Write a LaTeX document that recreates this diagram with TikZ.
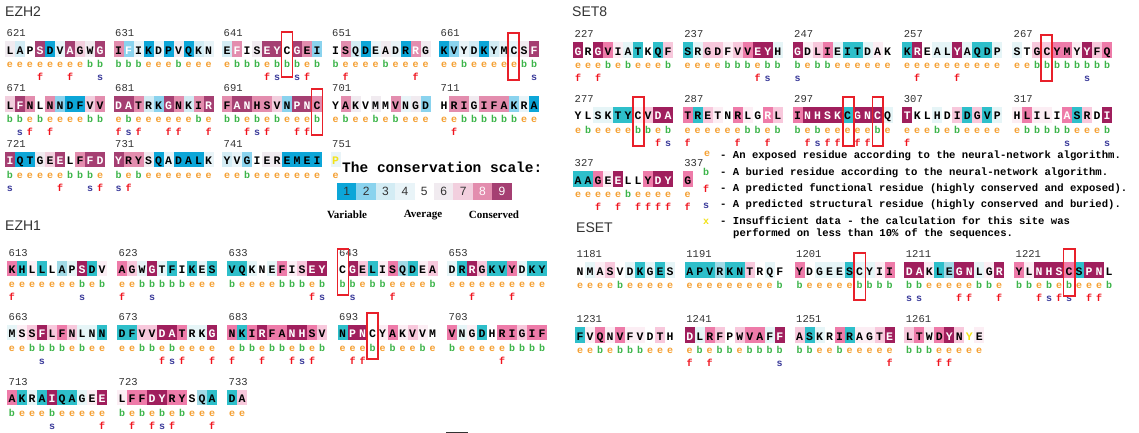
\documentclass[tikz,border=0pt]{standalone}
\usepackage{fontspec}
\setmainfont{Liberation Serif}
\newfontfamily\lmono{Liberation Mono}
\newfontfamily\lsans{Liberation Sans}
\ExplSyntaxOn
\cs_new:Npn \myitem #1#2 { \tl_item:nn {#1} {#2} }
\cs_new:Npn \mycount #1 { \tl_count:n {#1} }
\ExplSyntaxOff
% palette A (EZH2 / scale)
\definecolor{A1}{HTML}{0CA6D8}\definecolor{A2}{HTML}{8AD3EE}\definecolor{A3}{HTML}{D3ECF4}
\definecolor{A4}{HTML}{E9F4F8}\definecolor{A5}{HTML}{FFFFFF}\definecolor{A6}{HTML}{F1EBF0}
\definecolor{A7}{HTML}{F2CFDE}\definecolor{A8}{HTML}{E38DAE}\definecolor{A9}{HTML}{A53F72}
\colorlet{Ap}{A8}\colorlet{Aq}{A2}\colorlet{Ay}{A4}\colorlet{Az}{A5}
% palette B (others)
\definecolor{B1}{HTML}{2EBFCA}\definecolor{B2}{HTML}{A0DAE6}\definecolor{B3}{HTML}{D5EFF3}
\definecolor{B4}{HTML}{E6F5F7}\definecolor{B5}{HTML}{FFFFFF}\definecolor{B6}{HTML}{FCEEF4}
\definecolor{B7}{HTML}{F8C8DC}\definecolor{B8}{HTML}{EE7BA9}\definecolor{B9}{HTML}{A01F5D}
\colorlet{Bp}{B8}\colorlet{Bq}{B2}\colorlet{By}{B4}\colorlet{Bz}{B5}
% text colours
\definecolor{ins}{HTML}{F2E21A}
\colorlet{T1}{black}\colorlet{T2}{black}\colorlet{T3}{black}\colorlet{T4}{black}
\colorlet{T5}{black}\colorlet{T6}{black}\colorlet{T7}{black}\colorlet{T8}{black}
\colorlet{T9}{white}\colorlet{Tp}{white}\colorlet{Tq}{white}\colorlet{Ty}{ins}\colorlet{Tz}{ins}
\definecolor{Ce}{HTML}{F5A032}\definecolor{Cb}{HTML}{3DB54A}
\definecolor{Cf}{HTML}{F0141E}\definecolor{Cs}{HTML}{3A3A9A}\definecolor{Cx}{HTML}{F2E21A}
\definecolor{numgray}{HTML}{333333}\definecolor{ttlgray}{HTML}{333333}
\definecolor{boxred}{HTML}{E8202A}
\colorlet{S1}{numgray}\colorlet{S2}{numgray}\colorlet{S3}{numgray}\colorlet{S4}{numgray}
\colorlet{S5}{numgray}\colorlet{S6}{numgray}\colorlet{S7}{numgray}\colorlet{S8}{white}\colorlet{S9}{white}
\tikzset{
  numsty/.style={anchor=base west, inner sep=0pt, font=\lmono\fontsize{10.5}{10.5}\selectfont, text=numgray},
  ressty/.style={anchor=base, inner sep=0pt, font=\lmono\bfseries\fontsize{11.5}{11.5}\selectfont},
  ebsty/.style={anchor=base, inner sep=0pt, font=\lmono\bfseries\fontsize{10}{10}\selectfont},
  fssty/.style={anchor=base, inner sep=0pt, font=\lmono\bfseries\fontsize{10}{10}\selectfont},
  ttl/.style={anchor=west, inner sep=0pt, font=\lsans\fontsize{14}{14}\selectfont, text=ttlgray},
  redbox/.style={draw=boxred, line width=1.8pt},
  legt/.style={anchor=west, inner sep=0pt, font=\lmono\bfseries\fontsize{10.6}{10.6}\selectfont, text=black},
  scalenum/.style={inner sep=0pt, font=\lsans\fontsize{12}{12}\selectfont},
  scalelbl/.style={inner sep=0pt, font=\bfseries\fontsize{11}{11}\selectfont, text=black},
}
% #1 palette, #2 x, #3 y, #4 number, #5 residues, #6 grades, #7 e/b, #8 f/s
\newcommand\blk[8]{%
  \node[numsty] at (#2+1.5,#3+3.5) {#4};
  \edef\nres{\mycount{#5}}%
  \foreach \i in {1,...,\nres}{%
    \edef\res{\myitem{#5}{\i}}%
    \edef\gr{\myitem{#6}{\i}}%
    \edef\ebc{\myitem{#7}{\i}}%
    \edef\fsc{\myitem{#8}{\i}}%
    \pgfmathsetmacro\xx{#2+10*(\i-1)}%
    \fill[#1\gr] (\xx,#3+8) rectangle ++(10,15.5);
    \node[ressty, text=T\gr] at (\xx+5,#3+20.8) {\res};
    \node[ebsty, text=C\ebc] at (\xx+5,#3+34.5) {\ebc};
    \if\fsc-\relax\else\node[fssty, text=C\fsc] at (\xx+5,#3+47.5) {\fsc};\fi
  }%
}
\begin{document}
\begin{tikzpicture}[x=1pt,y=-1pt]
\useasboundingbox (0,0) rectangle (1139,433);
\fill[white] (0,0) rectangle (1139,433);
% titles
\node[ttl] (tEZH2) at (5,12) {EZH2};
\node[ttl] (tSET8) at (572,12) {SET8};
\node[ttl] (tEZH1) at (5,226) {EZH1};
\node[ttl] (tESET) at (576,228) {ESET};
% ---------------- EZH2 ----------------
\blk{A}{5}{33.3}{621}{LAPSDVAGWG}{6359149769}{eeeeeeeebb}{---f--f--s}
\blk{A}{113.5}{33.3}{631}{IFIKDPVQKN}{8q41416134}{bbbeeebeee}{----------}
\blk{A}{222}{33.3}{641}{EFISEYCGEI}{3p56995982}{ebbbebbbeb}{----fs-sf-}
\blk{A}{330.5}{33.3}{651}{ISQDEADRRG}{58314641p6}{beeeebeeee}{-f------f-}
\blk{A}{439}{33.3}{661}{KVYDKYMCSF}{1243134469}{eebeeeeebb}{---------s}
\blk{A}{5}{88.3}{671}{LFNLNNDFVV}{7985821178}{bbebeeeebb}{-sf-f-----}
\blk{A}{113.5}{88.3}{681}{DATRKGNKIR}{9983298389}{ebeeeeeebe}{fsf--ff--f}
\blk{A}{222}{88.3}{691}{FANHSVNPNC}{8998872998}{bbebebeeeb}{--fsf--ff-}
\blk{A}{330.5}{88.3}{701}{YAKVMMVNGD}{5865658462}{ebeebebeee}{----------}
\blk{A}{439}{88.3}{711}{HRIGIFAKRA}{5886888241}{eebbbbbbee}{-f--------}
\blk{A}{5}{143.5}{721}{IQTGEELFFD}{9116795899}{beeeeebbbe}{s----f--sf}
\blk{A}{113.5}{143.5}{731}{YRYSQADALK}{9886141114}{bebeeeeeee}{sf--------}
\blk{A}{222}{143.5}{741}{YVGIEREMEI}{3425661111}{eebeeeeeee}{----------}
\blk{A}{330.5}{143.5}{751}{P}{y}{e}{-}
% ---------------- SET8 ----------------
\blk{B}{573}{34.3}{227}{GRGVIATKQF}{9598641517}{eeebebeeeb}{f-f-------}
\blk{B}{682.7}{34.3}{237}{SRGDFVVEYH}{1477678994}{eeeebbbebb}{-------fs-}
\blk{B}{792.5}{34.3}{247}{GDLIEITDAK}{9678411465}{bebbeeeeee}{s---------}
\blk{B}{902.2}{34.3}{257}{KREALYAQDP}{1954494114}{eeeeeeeeee}{-f---f----}
\blk{B}{1012}{34.3}{267}{STGCYMYYFQ}{4577886978}{eebbbbbbbb}{-------s--}
\blk{B}{573}{99.2}{277}{YLSKTYCVDA}{5544116799}{ebeeeebbeb}{--------fs}
\blk{B}{682.7}{99.2}{287}{TRETNRLGRL}{81765865p7}{eeeeeebbeb}{f----f--f-}
\blk{B}{792.5}{99.2}{297}{INHSKCGNCQ}{8999919994}{bebeeeeebe}{-fsff-ff--}
\blk{B}{902.2}{99.2}{307}{TKLHDIDGVP}{9554571714}{eeebebeeee}{f---------}
\blk{B}{1012}{99.2}{317}{HLILIASRDI}{68665p1759}{ebbbbbeeeb}{-----s---s}
\blk{B}{573}{163.3}{327}{AAGEELLYDY}{1186955899}{eeeeebeeee}{--f-f-ffff}
\blk{B}{682.7}{163.3}{337}{G}{8}{e}{f}
% ---------------- EZH1 ----------------
\blk{B}{7}{252.7}{613}{KHLLLAPSDV}{8161524916}{eeeeeeebeb}{f------s--}
\blk{B}{117}{252.7}{623}{AGWGTFIKES}{8749415141}{eebbbbbeee}{f--s------}
\blk{B}{227}{252.7}{633}{VQKNEFISEY}{1145486799}{beeeebbbeb}{--------fs}
\blk{B}{337.5}{252.7}{643}{CGELISQDEA}{5971682167}{bbebbeeeeb}{-s---f----}
\blk{B}{447}{252.7}{653}{DRRGKVYDKY}{4197118411}{eeeeeeeeee}{--f---f---}
\blk{B}{7}{316.7}{663}{MSSFLFNLNN}{4679787441}{eebbbbebee}{---s------}
\blk{B}{117}{316.7}{673}{DFVVDATRKG}{1177998449}{eebbebeeee}{----fsf--f}
\blk{B}{227}{316.7}{683}{NKIRFANHSV}{8189889987}{ebbebbebeb}{f--f--fsf-}
\blk{B}{337.5}{316.7}{693}{NPNCYAKVVM}{1995686765}{eeebebeebe}{-ff-------}
\blk{B}{447}{316.7}{703}{VNGDHRIGIF}{8461588788}{beeeeebbbb}{-----f----}
\blk{B}{7}{381.7}{713}{AKRAIQAGEE}{8141911469}{beeebeeeee}{----s----f}
\blk{B}{117}{381.7}{723}{LFFDYRYSQA}{6889988521}{bebebebeee}{-f-fsf---f}
\blk{B}{227}{381.7}{733}{DA}{17}{ee}{--}
% ---------------- ESET ----------------
\blk{B}{575}{254.3}{1181}{NMASVDKGES}{5467541414}{eeeebeeeee}{----------}
\blk{B}{684.7}{254.3}{1191}{APVRKNTRQF}{1112117545}{eeeeeeeeeb}{----------}
\blk{B}{794.5}{254.3}{1201}{YDGEESCYII}{8544414468}{beeeeebbbb}{----------}
\blk{B}{904.2}{254.3}{1211}{DAKLEGNLGR}{9961299469}{bbeeeeebbe}{ss---ff--f}
\blk{B}{1014}{254.3}{1221}{YLNHSCSPNL}{8699981995}{bbebebeeeb}{--fsfs-ff-}
\blk{B}{575}{319.3}{1231}{FVQNVFVDTH}{1686866575}{eebebbbeee}{----------}
\blk{B}{684.7}{319.3}{1241}{DLRFPWVAFF}{9487578849}{ebebbebbbb}{f-f------s}
\blk{B}{794.5}{319.3}{1251}{ASKRIRAGTE}{7145816679}{bbeebeeeee}{---------f}
\blk{B}{904.2}{319.3}{1261}{LTWDYNYE}{786897z6}{bbbeeeee}{---ff---}
% ---------------- red boxes ----------------
\draw[redbox] (281.5,32) rectangle (292.5,77);
\draw[redbox] (508,33) rectangle (519,80);
\draw[redbox] (311.5,89) rectangle (322.5,135);
\draw[redbox] (1041,35) rectangle (1052,81);
\draw[redbox] (633,97) rectangle (644,146);
\draw[redbox] (843,97) rectangle (854,146);
\draw[redbox] (872.5,97) rectangle (883,146);
\draw[redbox] (337.5,249) rectangle (348.5,295);
\draw[redbox] (367,313) rectangle (378,359);
\draw[redbox] (854,253) rectangle (865.5,300);
\draw[redbox] (1063.5,249) rectangle (1075,296);
% ---------------- conservation scale ----------------
\node[anchor=west, inner sep=0pt, font=\lmono\bfseries\fontsize{14.5}{14.5}\selectfont] (scaletitle) at (342,167) {The conservation scale:};
\foreach \k in {1,...,9}{
  \fill[A\k] (337+19.4*\k-19.4,183) rectangle ++(19.4,17);
  \node[scalenum, text=S\k] at (337+19.4*\k-9.7,191.5) {\k};
}
\node[scalelbl] (lvar) at (347,215) {Variable};
\node[scalelbl] (lavg) at (423,215) {Average};
\node[scalelbl] (lcon) at (494,215) {Conserved};
% ---------------- legend ----------------
\node[ebsty, text=Ce] (ie) at (707,156) {e};
\node[ebsty, text=Cb] (ib) at (706,175) {b};
\node[fssty, text=Cf] (if) at (706,192) {f};
\node[fssty, text=Cs] (is) at (706,208) {s};
\node[fssty, text=Cx] (ix) at (706,224) {x};
\node[legt] (l1) at (720,156) {- An exposed residue according to the neural-network algorithm.};
\node[legt] (l2) at (720,172.5) {- A buried residue according to the neural-network algorithm.};
\node[legt] (l3) at (720,189) {- A predicted functional residue (highly conserved and exposed).};
\node[legt] (l4) at (720,205) {- A predicted structural residue (highly conserved and buried).};
\node[legt] (l5) at (720,221) {- Insufficient data - the calculation for this site was};
\node[legt] (l6) at (733,234) {performed on less than 10\% of the sequences.};
% small mark at bottom
\draw[line width=1pt, numgray] (446,432) -- (468,432);
\end{tikzpicture}
\end{document}
